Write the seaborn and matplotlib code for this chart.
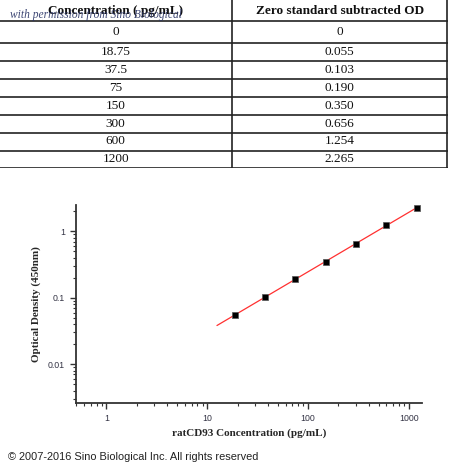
import numpy as np
import pandas as pd
import matplotlib
matplotlib.use("Agg")
import matplotlib.pyplot as plt
from matplotlib.ticker import LogLocator, FixedLocator, NullFormatter
import seaborn as sns

# standard curve data
concentration = [0, 18.75, 37.5, 75, 150, 300, 600, 1200]
od_values = [0, 0.055, 0.103, 0.190, 0.350, 0.656, 1.254, 2.265]
conc_labels = ["0", "18.75", "37.5", "75", "150", "300", "600", "1200"]
od_labels = ["0", "0.055", "0.103", "0.190", "0.350", "0.656", "1.254", "2.265"]
col_headers = ["Concentration ( pg/mL)", "Zero standard subtracted OD"]
fit_range = [12.5, 1200]

sns.set_style("white")
plt.rcParams['font.family'] = ['Liberation Serif', 'DejaVu Serif']

W, H = 450, 467
fig = plt.figure(figsize=(W / 100, H / 100), dpi=100)

# ---- table on top ----
tax = fig.add_axes([0, 1 - 168 / H, 448 / W, 168 / H])
tax.set_xlim(0, 448)
tax.set_ylim(168, 0)
tax.axis("off")
col_x = [0, 231.5, 448]
row_y = [0, 21, 42.7, 61, 79.3, 97, 115, 132.5, 150.5, 168]
for y in row_y[1:]:
    tax.plot([0, 448], [y, y], color="#222222", lw=1.2, solid_capstyle="butt")
tax.plot([231.5, 231.5], [0, 168], color="#222222", lw=1.2)
tax.plot([447, 447], [0, 168], color="#222222", lw=1.2)

for j, h in enumerate(col_headers):
    tax.text((col_x[j] + col_x[j + 1]) / 2, 11, h, ha="center", va="center",
             fontsize=9.5, fontweight="bold", color="#111111")
for i, (c, o) in enumerate(zip(conc_labels, od_labels)):
    yc = (row_y[i + 1] + row_y[i + 2]) / 2
    tax.text((col_x[0] + col_x[1]) / 2, yc, c, ha="center", va="center", fontsize=9.5, color="#111111")
    tax.text((col_x[1] + col_x[2]) / 2, yc, o, ha="center", va="center", fontsize=9.5, color="#111111")

fig.text(10 / W, 1 - 15 / H, "with permission from Sino Biological", fontsize=8.3,
         style="italic", color="#2a3466", ha="left", va="center", alpha=0.9)

# ---- log-log standard curve ----
df = pd.DataFrame({"conc": concentration, "od": od_values})
df = df[df["conc"] > 0]

slope, intercept = np.polyfit(np.log10(df["conc"]), np.log10(df["od"]), 1)
fit_x = np.logspace(np.log10(fit_range[0]), np.log10(fit_range[1]), 50)
fit_df = pd.DataFrame({"conc": fit_x, "od": 10 ** (intercept + slope * np.log10(fit_x))})

ax = fig.add_axes([76 / W, 1 - 403 / H, 346 / W, 198 / H])
sns.lineplot(data=fit_df, x="conc", y="od", color="#ff3030", lw=0.9, ax=ax)
sns.scatterplot(data=df, x="conc", y="od", marker="s", s=18, color="black",
                edgecolor="#555555", linewidth=0.5, ax=ax, zorder=3)
ax.set_xscale("log")
ax.set_yscale("log")
ax.set_xlim(0.5, 1350)
ax.set_ylim(0.0026, 2.5)

for side in ["top", "right"]:
    ax.spines[side].set_visible(False)
for side in ["left", "bottom"]:
    ax.spines[side].set_color("#333333")
    ax.spines[side].set_linewidth(1.3)

ax.xaxis.set_major_locator(FixedLocator([1, 10, 100, 1000]))
ax.yaxis.set_major_locator(FixedLocator([0.01, 0.1, 1]))
ax.xaxis.set_minor_locator(LogLocator(base=10, subs=np.arange(2, 10)))
ax.yaxis.set_minor_locator(LogLocator(base=10, subs=np.arange(2, 10)))
ax.xaxis.set_minor_formatter(NullFormatter())
ax.yaxis.set_minor_formatter(NullFormatter())
ax.set_xticklabels(["1", "10", "100", "1000"], family="Liberation Sans", fontsize=6.3, color="#333344")
ax.set_yticklabels(["0.01", "0.1", "1"], family="Liberation Sans", fontsize=6.3, color="#333344")
ax.tick_params(which="major", direction="out", length=4, width=1, color="#333333", pad=4,
               bottom=True, left=True)
ax.tick_params(which="minor", direction="out", length=2, width=0.8, color="#333333",
               bottom=True, left=True)

ax.set_xlabel("ratCD93 Concentration (pg/mL)", fontsize=8, fontweight="bold", labelpad=4)
ax.set_ylabel("Optical Density (450nm)", fontsize=8, fontweight="bold", labelpad=5)

fig.text(8 / W, 1 - 457 / H, "\u00a9 2007-2016 Sino Biological Inc. All rights reserved",
         family="Liberation Sans", fontsize=7.9, color="#222222", ha="left", va="center")

fig.savefig("out.png", dpi=100)
